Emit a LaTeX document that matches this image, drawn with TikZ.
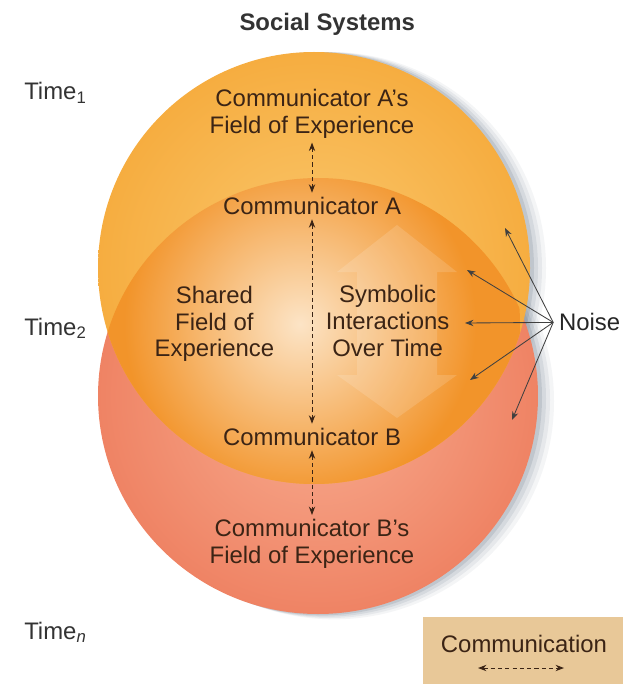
\documentclass[tikz,border=0pt]{standalone}
\usepackage{fontspec}
\setmainfont{Liberation Sans}
\usetikzlibrary{arrows.meta}
\definecolor{ink}{HTML}{3B2415}
\definecolor{topouter}{HTML}{F6AD40}
\definecolor{topinner}{HTML}{FAC86E}
\definecolor{botouter}{HTML}{EF8364}
\definecolor{botinner}{HTML}{F8AE92}
\definecolor{lensouter}{HTML}{F2942A}
\definecolor{lensinner}{HTML}{FCE4C6}
\definecolor{keyfill}{HTML}{E8C898}
\definecolor{shadowgray}{HTML}{6E7C8C}
\pgfdeclareradialshading{lensglow}{\pgfpoint{0bp}{0bp}}{color(0bp)=(lensinner); color(11bp)=(lensinner!45!lensouter); color(20bp)=(lensouter); color(50bp)=(lensouter)}
\tikzstyle{txt} = [text=ink, align=center, font=\fontsize{17}{19}\selectfont, inner sep=3pt]
\tikzstyle{timetxt} = [text=black!80, anchor=base west, font=\fontsize{17}{19}\selectfont, inner sep=0pt]
\tikzstyle{comm} = [ink, line width=.7pt, dash pattern=on 3pt off 2.2pt, {Stealth[length=6pt,width=4.5pt]}-{Stealth[length=6pt,width=4.5pt]}]
\tikzstyle{noisearrow} = [black!75, line width=.6pt, -{Stealth[length=6pt,width=4.5pt]}]

\begin{document}
\begin{tikzpicture}
\useasboundingbox (0,0) rectangle (15.575,-17.1);
%shadow
\foreach \s/\o in {0.4/0.08, 0.3/0.1, 0.2/0.14, 0.1/0.2}{
  \fill[shadowgray, opacity=\o] ({7.85+\s},-6.7) circle (5.4cm);
  \fill[shadowgray, opacity=\o] ({7.95+\s},{-9.9-\s/3}) ellipse (5.5cm and 5.45cm);
}
%circles
\shade[inner color=botinner, outer color=botouter] (7.95,-9.9) ellipse (5.5cm and 5.45cm);
\shade[inner color=topinner, outer color=topouter] (7.85,-6.7) circle (5.4cm);
\begin{scope}
\clip (7.85,-6.7) circle (5.4cm);
\clip (7.95,-9.9) ellipse (5.5cm and 5.45cm);
\shade[shading=lensglow] (7.5,-8.1) circle (5.5cm);
\end{scope}
%big faint arrow
\fill[white, opacity=.14] (9.925,-5.625) -- (11.425,-6.8) -- (10.925,-6.8) -- (10.925,-9.375) -- (11.425,-9.375) -- (9.925,-10.45) -- (8.425,-9.375) -- (8.925,-9.375) -- (8.925,-6.8) -- (8.425,-6.8) -- cycle;

%labels
\node(title)at(8.18,-0.61)[font=\fontsize{17}{19}\selectfont\bfseries, text=black!80]{Social Systems};
\node(time1)at(0.6,-2.5)[timetxt]{Time\textsubscript{1}};
\node(time2)at(0.6,-8.375)[timetxt]{Time\textsubscript{2}};
\node(timen)at(0.6,-15.975)[timetxt]{Time\textsubscript{\itshape n}};

\node(fieldA)at(7.8,-2.84)[txt]{Communicator A's\\Field of Experience};
\node(commA)at(7.8,-5.15)[txt]{Communicator A};
\node(shared)at(5.36,-8.1)[txt]{Shared\\Field of\\Experience};
\node(symb)at(9.69,-8.025)[txt]{Symbolic\\Interactions\\Over Time};
\node(commB)at(7.8,-10.925)[txt]{Communicator B};
\node(fieldB)at(7.8,-13.6)[txt]{Communicator B's\\Field of Experience};

%noise
\node(noise)at(13.83,-8.06)[anchor=west, text=black!85, font=\fontsize{17}{19}\selectfont, inner sep=4pt]{Noise};
\foreach \x/\y [count=\i] in {12.625/-5.7, 11.675/-6.75, 11.625/-8.075, 11.75/-9.5, 12.8/-10.5}
  \coordinate(n\i)at(\x,\y);
\foreach \i in {1,...,5}
  \draw[noisearrow](noise.west)--(n\i);

%key
\node(key)at(13.075,-16.2625)[rectangle, fill=keyfill, minimum width=5cm, minimum height=1.675cm, inner sep=0pt]{};
\node(keytxt)at(13.1,-16.09)[txt]{Communication};
\coordinate(keyL)at(11.95,-16.7);
\coordinate(keyR)at(14.1,-16.7);

%arrows
\draw[comm](fieldA)--(commA);
\draw[comm](commA)--(commB);
\draw[comm](commB)--(fieldB);
\draw[comm](keyL)--(keyR);
\end{tikzpicture}
\end{document}
